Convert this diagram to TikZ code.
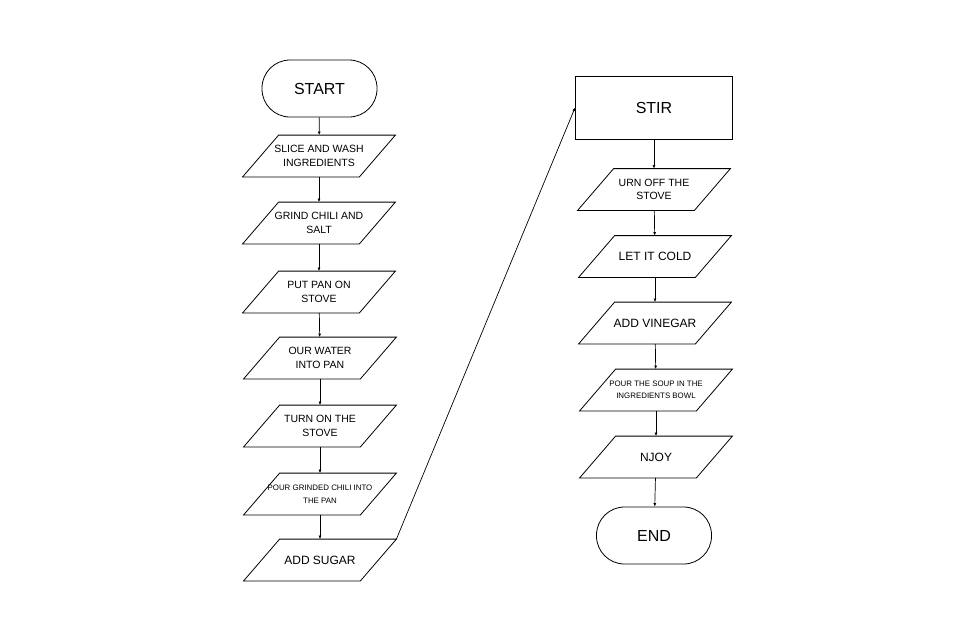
\documentclass[tikz,border=0pt]{standalone}
\usepackage{fontspec}
\setmainfont{Liberation Sans}
\usetikzlibrary{arrows.meta}

\begin{document}
\begin{tikzpicture}[x=1pt,y=-1pt,
    term/.style={draw, rectangle, rounded corners=28pt, minimum width=115pt, minimum height=57pt, align=center, font=\fontsize{16}{19}\selectfont},
    proc/.style={draw, rectangle, minimum width=157pt, minimum height=63pt, align=center, font=\fontsize{16}{19}\selectfont},
    io/.style={rectangle, minimum width=116pt, minimum height=41pt, inner sep=0pt, align=center, font=\fontsize{10.5}{13.3}\selectfont},
    tiny/.style={font=\fontsize{7.9}{12.5}\selectfont},
    big/.style={font=\fontsize{12}{15}\selectfont},
    line/.style={-{Latex[length=3.5pt,width=3pt]}, line width=0.7pt}]
    \useasboundingbox (0,0) rectangle (960,640);
    \tikzset{every node/.append style={line width=0.8pt}}

    % left column
    \path
    (319.5,88.5)node[term](start){START}
    (319,156)node[io](s1){SLICE AND WASH\\INGREDIENTS}
    (319,223)node[io](s2){GRIND CHILI AND\\SALT}
    (319,292)node[io](s3){PUT PAN ON\\STOVE}
    (320,358)node[io](s4){OUR WATER\\INTO PAN}
    (320,426)node[io](s5){TURN ON THE\\STOVE}
    (320,494)node[io, tiny](s6){POUR GRINDED CHILI INTO\\THE PAN}
    (320,560)node[io, big](s7){ADD SUGAR}

    % right column
    (654,107.5)node[proc](stir){STIR}
    (654,189.5)node[io](s8){URN OFF THE\\STOVE}
    (655,256.5)node[io, big](s9){LET IT COLD}
    (655,323)node[io, big](s10){ADD VINEGAR}
    (656,390)node[io, tiny](s11){POUR THE SOUP IN THE\\INGREDIENTS BOWL}
    (656,457)node[io, big](s12){NJOY}
    (654,535.5)node[term](end){END};

    % slanted outlines
    \foreach \n in {s1,s2,s3,s4,s5,s6,s7,s8,s9,s10,s11,s12}
        \draw[line width=0.8pt] ([xshift=18pt]\n.north west) -- ([xshift=18pt]\n.north east)
            -- ([xshift=-18pt]\n.south east) -- ([xshift=-18pt]\n.south west) -- cycle;

    \draw[line] (start) -- (s1);
    \draw[line] (s1) -- (s2);
    \draw[line] (s2) -- (s3);
    \draw[line] (s3) -- (s4);
    \draw[line] (s4) -- (s5);
    \draw[line] (s5) -- (s6);
    \draw[line] (s6) -- (s7);
    \draw[line] ([xshift=18pt]s7.north east) -- (stir.west);
    \draw[line] (stir) -- (s8);
    \draw[line] (s8) -- (s9);
    \draw[line] (s9) -- (s10);
    \draw[line] (s10) -- (s11);
    \draw[line] (s11) -- (s12);
    \draw[line] (s12) -- (end);
\end{tikzpicture}
\end{document}
